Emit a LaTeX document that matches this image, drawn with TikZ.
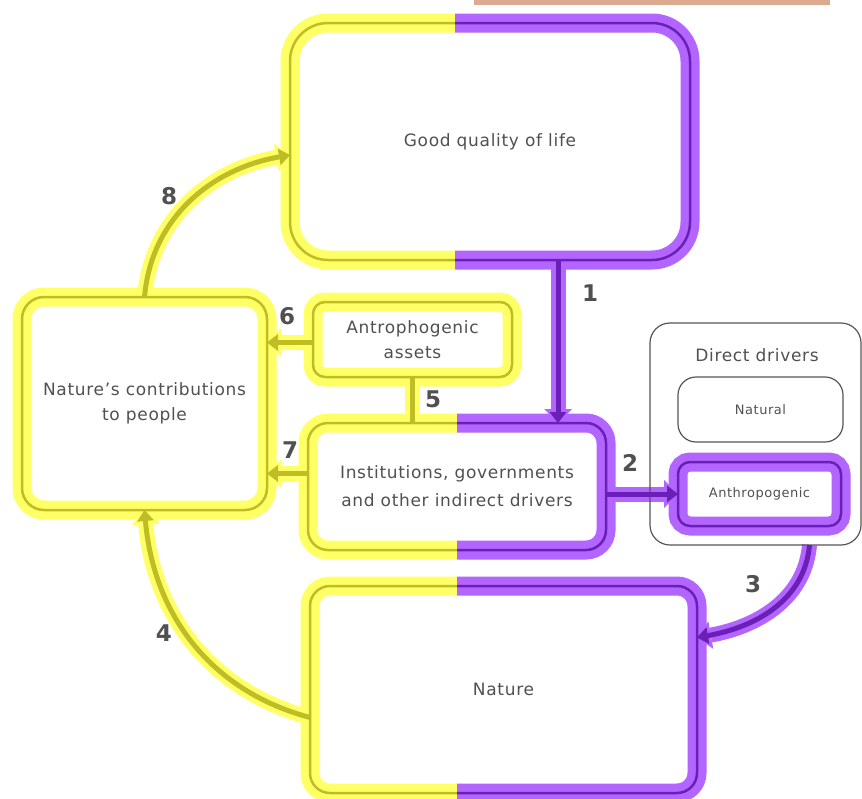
\documentclass[tikz,border=0pt]{standalone}
\usepackage{fontspec}
\setmainfont{DejaVu Sans}[LetterSpace=4]
\usetikzlibrary{arrows.meta}

\definecolor{yhalo}{RGB}{255,255,102}
\definecolor{ydark}{RGB}{190,190,36}
\definecolor{phalo}{RGB}{178,102,255}
\definecolor{pdark}{RGB}{108,30,184}
\definecolor{ink}{RGB}{80,80,80}
\definecolor{rule}{RGB}{85,85,85}
\definecolor{bar}{RGB}{221,170,145}

\pgfdeclarelayer{halo}
\pgfsetlayers{halo,main}

\tikzset{
  halotip/.style={-{Triangle[length=14pt,width=28pt,line width=0pt]}},
  darktip/.style={-{Triangle[length=11pt,width=17pt,line width=0pt]}},
  halonone/.style={},
  darknone/.style={}
}

% rim of a box: node, radius, left colour, right colour, split at x
\newcommand{\boxrim}[5]{%
  \begin{pgfonlayer}{halo}
    \begin{scope}
      \clip (-50,-50) rectangle (#5,850);
      \draw[#3halo,line width=19pt,rounded corners=#2] (#1.south west) rectangle (#1.north east);
    \end{scope}
    \begin{scope}
      \clip (#5,-50) rectangle (900,850);
      \draw[#4halo,line width=19pt,rounded corners=#2] (#1.south west) rectangle (#1.north east);
    \end{scope}
  \end{pgfonlayer}
  \begin{scope}
    \clip (-50,-50) rectangle (#5,850);
    \draw[#3dark,line width=2.5pt,rounded corners=#2] (#1.south west) rectangle (#1.north east);
  \end{scope}
  \begin{scope}
    \clip (#5,-50) rectangle (900,850);
    \draw[#4dark,line width=2.5pt,rounded corners=#2] (#1.south west) rectangle (#1.north east);
  \end{scope}}

% thick link with a pale halo
\newcommand{\flow}[3][tip]{%
  \begin{pgfonlayer}{halo}
    \draw[#2halo,line width=15pt,halo#1] #3;
  \end{pgfonlayer}
  \draw[#2dark,line width=5pt,dark#1] #3;}

\begin{document}
\begin{tikzpicture}[x=1pt,y=-1pt,
  box/.style={inner sep=0pt,outer sep=0pt,align=center,text=ink,
    font=\fontsize{17}{25}\selectfont},
  small/.style={box,font=\fontsize{13}{16}\selectfont},
  thinbox/.style={draw=rule,line width=1.2pt,rounded corners=20pt},
  num/.style={text=ink,font=\fontsize{23}{23}\selectfont\bfseries}]
  \useasboundingbox (0,0) rectangle (862,798);
  \fill[bar] (474,0) rectangle (830,5);

  % boxes
  \node[box,minimum width=400pt,minimum height=237pt] (good) at (490,141.5) {Good quality of life};
  \node[box,minimum width=245pt,minimum height=213pt] (ncp) at (144.5,403.5) {Nature's contributions\\to people};
  \node[box,minimum width=199pt,minimum height=75pt] (assets) at (412.5,339.5) {Antrophogenic\\assets};
  \node[box,minimum width=298pt,minimum height=127pt,font=\fontsize{17}{28}\selectfont] (inst) at (457,486.5) {Institutions, governments\\and other indirect drivers};
  \node[box,minimum width=387pt,minimum height=207pt] (nature) at (503.5,689.5) {Nature};
  \node[box,thinbox,minimum width=211pt,minimum height=222pt] (direct) at (755.5,434) {};
  \node[box] (dtitle) at (757,355) {Direct drivers};
  \node[small,thinbox,rounded corners=18pt,minimum width=165pt,minimum height=65pt] (natural) at (760.5,409.5) {Natural};
  \node[small,minimum width=163pt,minimum height=64pt] (anthro) at (759.5,494) {Anthropogenic};

  \boxrim{good}{38pt}{y}{p}{455}
  \boxrim{ncp}{22pt}{y}{y}{0}
  \boxrim{assets}{12pt}{y}{y}{0}
  \boxrim{inst}{20pt}{y}{p}{457}
  \boxrim{nature}{20pt}{y}{p}{457}
  \boxrim{anthro}{12pt}{p}{p}{0}

  % links
  \coordinate (q1) at ([xshift=68pt]good.south);
  \coordinate (q6) at ([yshift=-3pt]assets.west);
  \coordinate (q7) at ([yshift=13pt]inst.west);
  \flow{p}{(q1) -- (q1 |- inst.north)}
  \flow{p}{(inst.east |- anthro.west) -- (anthro.west)}
  \flow{p}{([xshift=54pt]direct.south) to[out=-95,in=10] ([yshift=52pt]nature.east)}
  \flow{y}{([yshift=-28pt]nature.west) to[out=165,in=-85] (ncp.south)}
  \flow[none]{y}{(assets.south) -- (assets.south |- inst.north)}
  \flow{y}{(q6) -- (q6 -| ncp.east)}
  \flow{y}{(q7) -- (q7 -| ncp.east)}
  \flow{y}{(ncp.north) to[out=85,in=190] ([yshift=-13.5pt]good.west)}

  \foreach \n/\x/\y in {1/590/293,2/630/463,3/753/584,4/164/633,5/433/399,6/287/316,7/290/450,8/169/196}
    \node[num] (lab\n) at (\x,\y) {\n};
\end{tikzpicture}
\end{document}
